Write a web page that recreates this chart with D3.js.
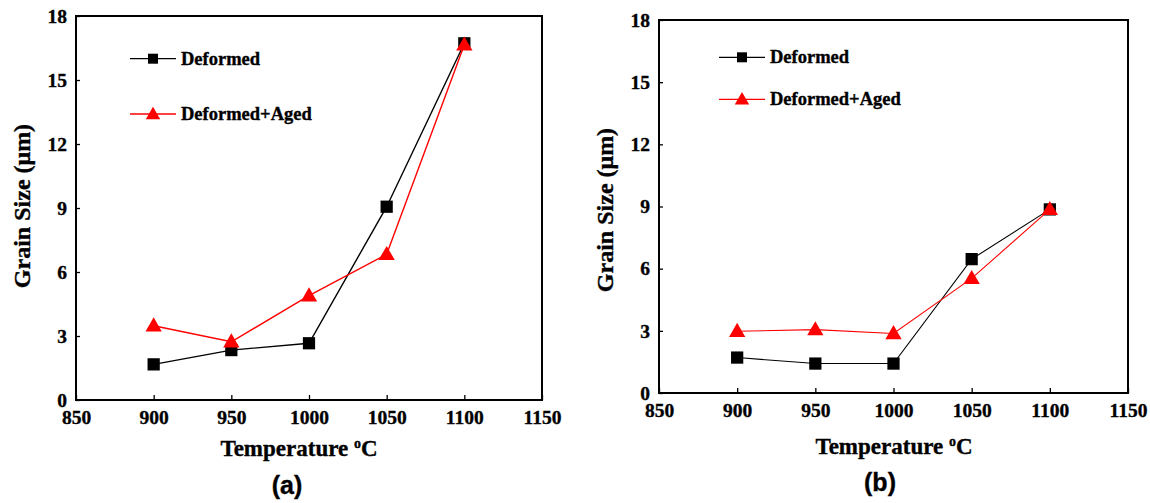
<!DOCTYPE html>
<html>
<head>
<meta charset="utf-8">
<script src="https://cdn.jsdelivr.net/npm/d3@7"></script>
<style>
  body { margin: 0; background: #fff; }
  svg text { font-family: "Liberation Serif", "Times New Roman", serif; font-weight: bold; stroke: #000; stroke-width: 0.35px; }
</style>
</head>
<body>
<div id="chart"></div>
<script>
// temperatures (x) and grain size values
var temps = [900, 950, 1000, 1050, 1100];
var xTicks = [850, 900, 950, 1000, 1050, 1100, 1150];
var yTicks = [0, 3, 6, 9, 12, 15, 18];
var seriesNames = ["Deformed", "Deformed+Aged"];

// panel (a)
var deformedA = [1.67, 2.34, 2.66, 9.06, 16.72];
var agedA = [3.48, 2.73, 4.89, 6.83, 16.65];

// panel (b)
var deformedB = [1.71, 1.42, 1.42, 6.46, 8.86];
var agedB = [2.98, 3.06, 2.87, 5.53, 8.86];

var svg = d3.select("#chart").append("svg")
    .attr("width", 1150)
    .attr("height", 503);

function drawPanel(p) {
    var x = d3.scaleLinear().domain([850, 1150]).range([p.left, p.right]);
    var y = d3.scaleLinear().domain([0, 18]).range([p.bottom, p.top]);
    var g = svg.append("g");

    // y axis, ticks point inward
    var yAxis = g.append("g")
        .attr("transform", "translate(" + p.left + ",0)")
        .call(d3.axisLeft(y).tickValues(yTicks).tickFormat(d3.format("d"))
            .tickSizeInner(-4).tickSizeOuter(0).tickPadding(9));
    yAxis.select(".domain").remove();
    yAxis.selectAll("line").attr("stroke-width", 1.3);
    yAxis.selectAll("text").attr("font-size", 19.5).attr("fill", "#000")
        .style("font-family", "Liberation Serif").style("font-weight", "bold");

    var xAxis = g.append("g")
        .attr("transform", "translate(0," + p.bottom + ")")
        .call(d3.axisBottom(x).tickValues(xTicks).tickFormat(d3.format("d"))
            .tickSizeInner(-5).tickSizeOuter(0).tickPadding(p.xPad));
    xAxis.select(".domain").remove();
    xAxis.selectAll("line").attr("stroke-width", 1.3);
    xAxis.selectAll("text").attr("font-size", 19.5).attr("fill", "#000")
        .style("font-family", "Liberation Serif").style("font-weight", "bold");

    // frame
    g.append("rect")
        .attr("x", p.left).attr("y", p.top)
        .attr("width", p.right - p.left).attr("height", p.bottom - p.top)
        .attr("fill", "none").attr("stroke", "#000").attr("stroke-width", 2);

    var line = d3.line()
        .x(function(d, i) { return x(temps[i]); })
        .y(function(d) { return y(d); });

    var series = [
        {name: seriesNames[0], values: p.deformed, color: "#000", shape: d3.symbolSquare},
        {name: seriesNames[1], values: p.aged, color: "#ff0000", shape: d3.symbolTriangle}
    ];

    series.forEach(function(s) {
        g.append("path")
            .datum(s.values)
            .attr("d", line)
            .attr("fill", "none")
            .attr("stroke", s.color)
            .attr("stroke-width", p.lineW);
    });
    series.forEach(function(s) {
        var size = s.shape === d3.symbolSquare ? 150 : 115;
        g.selectAll(null)
            .data(s.values)
            .enter().append("path")
            .attr("d", d3.symbol().type(s.shape).size(size))
            .attr("transform", function(d, i) {
                var dy = s.shape === d3.symbolTriangle ? 1 : 0;
                return "translate(" + x(temps[i]) + "," + (y(d) + dy) + ")";
            })
            .attr("fill", s.color);
    });

    // legend
    series.forEach(function(s, i) {
        var ly = p.legendY[i];
        g.append("line")
            .attr("x1", p.legendX).attr("x2", p.legendX + 46)
            .attr("y1", ly).attr("y2", ly)
            .attr("stroke", s.color).attr("stroke-width", 1.3);
        g.append("path")
            .attr("d", d3.symbol().type(s.shape).size(s.shape === d3.symbolSquare ? 100 : 90))
            .attr("transform", "translate(" + (p.legendX + 23) + "," + (ly + (i ? 1 : 0)) + ")")
            .attr("fill", s.color);
        g.append("text")
            .attr("x", p.legendX + 51).attr("y", ly + 6)
            .attr("font-size", 18.5)
            .text(s.name);
    });

    // axis titles
    g.append("text")
        .attr("transform", "translate(" + p.yLabelX + "," + p.yLabelY + ") rotate(-90)")
        .attr("text-anchor", "middle")
        .attr("dy", "0.35em")
        .attr("font-size", 24)
        .text("Grain Size (\u03bcm)");

    var xt = g.append("text")
        .attr("x", p.xLabelX).attr("y", p.xLabelY)
        .attr("text-anchor", "middle")
        .attr("font-size", 23);
    xt.append("tspan").text("Temperature ");
    xt.append("tspan").attr("font-size", 14).attr("dy", -8).text("o");
    xt.append("tspan").attr("dy", 8).text("C");

    g.append("text")
        .attr("x", p.tagX).attr("y", p.tagY)
        .attr("text-anchor", "middle")
        .attr("font-size", 25)
        .style("font-family", "Liberation Sans, Arial, sans-serif")
        .text(p.tag);
}

drawPanel({
    left: 76, right: 542, top: 16, bottom: 400,
    deformed: deformedA, aged: agedA, lineW: 1.4, xPad: 10,
    legendX: 130, legendY: [58.7, 114],
    yLabelX: 22, yLabelY: 206, xLabelX: 299, xLabelY: 456,
    tag: "(a)", tagX: 287, tagY: 494
});

drawPanel({
    left: 659, right: 1128, top: 20, bottom: 393,
    deformed: deformedB, aged: agedB, lineW: 1.1, xPad: 10,
    legendX: 719, legendY: [57.3, 99.3],
    yLabelX: 605, yLabelY: 210, xLabelX: 894, xLabelY: 454,
    tag: "(b)", tagX: 880, tagY: 491
});
</script>
</body>
</html>
